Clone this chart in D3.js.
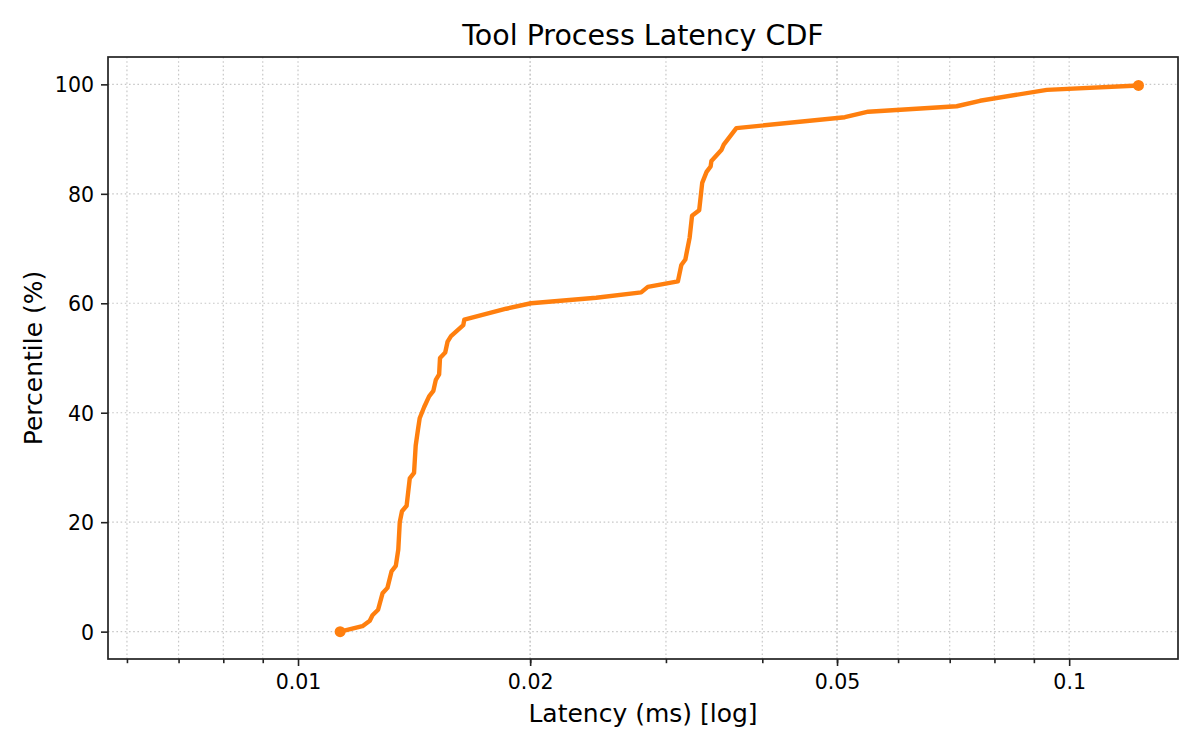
<!DOCTYPE html>
<html>
<head>
<meta charset="utf-8">
<script src="https://cdn.jsdelivr.net/npm/d3@7"></script>
<style>
  html, body { margin: 0; padding: 0; background: #fff; }
  svg { display: block; font-family: "DejaVu Sans", sans-serif; }
</style>
</head>
<body>
<svg id="chart" width="1200" height="750"></svg>
<script>
// ---- data ----
const latencyMs = [0.01134, 0.01212, 0.01239, 0.01249, 0.01270, 0.01287, 0.01306, 0.01322, 0.01339, 0.01349,
  0.01355, 0.01364, 0.01383, 0.01396, 0.01414, 0.01421, 0.01431, 0.01438, 0.01457, 0.01479,
  0.01498, 0.01509, 0.01524, 0.01528, 0.01552, 0.01563, 0.01579, 0.01638, 0.01643, 0.01862,
  0.02005, 0.02436, 0.02786, 0.02842, 0.03109, 0.03141, 0.03179, 0.03189, 0.03220, 0.03243,
  0.03313, 0.03343, 0.03387, 0.03428, 0.03436, 0.03540, 0.03565, 0.03702, 0.05118, 0.05489,
  0.07147, 0.07662, 0.09355, 0.1230];
const percentile = [0, 1, 2, 3, 4, 7, 8, 11, 12, 15,
  20, 22, 23, 28, 29, 34, 37, 39, 41, 43,
  44, 46, 47, 50, 51, 53, 54, 56, 57, 59,
  60, 61, 62, 63, 64, 67, 68, 69, 72, 76,
  77, 82, 84, 85, 86, 88, 89, 92, 94, 95,
  96, 97, 99, 99.8];
const xMajorTicks = [0.01, 0.02, 0.05, 0.1];
const xMajorLabels = ["0.01", "0.02", "0.05", "0.1"];
const xMinorTicks = [0.006, 0.007, 0.008, 0.009, 0.02, 0.03, 0.04, 0.05, 0.06, 0.07, 0.08, 0.09];
const yTicks = [0, 20, 40, 60, 80, 100];
const xDomain = [0.00567, 0.1384];
const yDomain = [-5, 105];
const titleText = "Tool Process Latency CDF";
const xLabelText = "Latency (ms) [log]";
const yLabelText = "Percentile (%)";

// ---- layout ----
const L = 108, R = 1178, T = 57, B = 659;
const svg = d3.select("#chart");
const x = d3.scaleLog().domain(xDomain).range([L, R]);
const y = d3.scaleLinear().domain(yDomain).range([B, T]);
const axisColor = "#222";
const gridColor = "#c8c8c8";

// grid
const grid = svg.append("g");
grid.selectAll("line.vx").data(xMinorTicks.concat(xMajorTicks)).enter().append("line")
  .attr("x1", d => x(d)).attr("x2", d => x(d)).attr("y1", T).attr("y2", B)
  .attr("stroke", gridColor).attr("stroke-width", 1.2).attr("stroke-dasharray", "1.6,2.6");
grid.selectAll("line.hy").data(yTicks).enter().append("line")
  .attr("x1", L).attr("x2", R).attr("y1", d => y(d)).attr("y2", d => y(d))
  .attr("stroke", gridColor).attr("stroke-width", 1.2).attr("stroke-dasharray", "1.6,2.6");

// axes
const xAxis = d3.axisBottom(x).tickValues(xMajorTicks)
  .tickFormat((d, i) => xMajorLabels[i]).tickSize(7).tickPadding(7);
const xAxisMinor = d3.axisBottom(x).tickValues(xMinorTicks).tickFormat("").tickSize(4.2);
const yAxis = d3.axisLeft(y).tickValues(yTicks).tickFormat(d3.format("d")).tickSize(7).tickPadding(7);

function styleAxis(g) {
  g.select(".domain").remove();
  g.selectAll(".tick line").attr("stroke", axisColor).attr("stroke-width", 1.6);
  g.selectAll(".tick text").attr("fill", "#000").attr("font-size", "20.5px")
    .attr("font-family", "DejaVu Sans, sans-serif");
}
svg.append("g").attr("transform", `translate(0,${B})`).call(xAxisMinor).call(styleAxis);
svg.append("g").attr("transform", `translate(0,${B})`).call(xAxis).call(styleAxis)
  .selectAll(".tick text").attr("dy", "0.78em");
svg.append("g").attr("transform", `translate(${L},0)`).call(yAxis).call(styleAxis)
  .selectAll(".tick text").attr("dy", "0.36em");

// line
const pts = latencyMs.map((v, i) => [v, percentile[i]]);
const line = d3.line().x(d => x(d[0])).y(d => y(d[1]));
svg.append("path").datum(pts).attr("d", line)
  .attr("fill", "none").attr("stroke", "#ff7f0e").attr("stroke-width", 4.4)
  .attr("stroke-linejoin", "round").attr("stroke-linecap", "butt");
svg.selectAll("circle.end").data([pts[0], pts[pts.length - 1]]).enter().append("circle")
  .attr("cx", d => x(d[0])).attr("cy", d => y(d[1])).attr("r", 5.5).attr("fill", "#ff7f0e");

// frame
svg.append("rect").attr("x", L).attr("y", T).attr("width", R - L).attr("height", B - T)
  .attr("fill", "none").attr("stroke", axisColor).attr("stroke-width", 1.7);

// labels
svg.append("text").attr("x", (L + R) / 2).attr("y", 45).attr("text-anchor", "middle")
  .attr("font-size", "28.5px").attr("fill", "#000").text(titleText);
svg.append("text").attr("x", (L + R) / 2).attr("y", 722).attr("text-anchor", "middle")
  .attr("font-size", "25px").attr("fill", "#000").text(xLabelText);
svg.append("text").attr("transform", `translate(42,${(T + B) / 2}) rotate(-90)`)
  .attr("text-anchor", "middle").attr("font-size", "25px").attr("fill", "#000").text(yLabelText);
</script>
</body>
</html>
